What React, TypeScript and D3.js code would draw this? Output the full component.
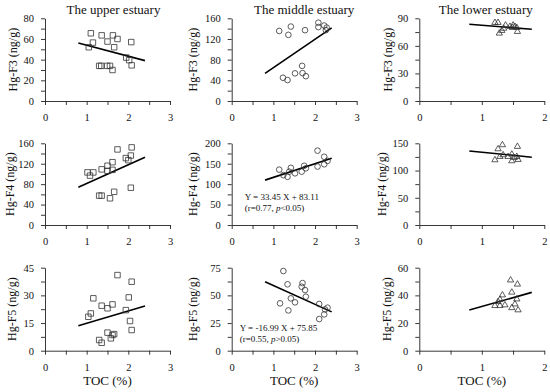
import React, { useEffect, useRef } from "react";
import * as d3 from "d3";

// [TOC %, Hg ng/g] pairs
const upperF3 = [[1.10, 65.5], [1.15, 56.5], [1.05, 52], [1.36, 63.5], [1.50, 57.5], [1.63, 63.5], [1.74, 60], [1.66, 52], [1.30, 34], [1.35, 34], [1.49, 34], [1.56, 34], [1.62, 30], [1.95, 42], [2.02, 39.5], [2.07, 57], [2.08, 34.5]];
const middleF3 = [[1.14, 135.5], [1.42, 144], [1.36, 128], [1.76, 137], [2.08, 151.5], [2.08, 143], [2.22, 146], [2.28, 142], [2.26, 137], [1.23, 45], [1.34, 40.5], [1.52, 53.5], [1.69, 68], [1.70, 54], [1.78, 48]];
const lowerF3 = [[1.21, 85.3], [1.26, 85.3], [1.28, 73.7], [1.32, 76.6], [1.38, 82.4], [1.45, 81], [1.50, 82.4], [1.53, 81], [1.49, 79.8], [1.56, 79.8], [1.57, 75.5], [1.35, 79]];
const upperF4 = [[1.02, 103], [1.08, 96.7], [1.16, 103], [1.36, 109], [1.50, 116], [1.50, 106], [1.62, 123], [1.62, 108], [1.74, 148], [1.94, 131], [2.0, 127], [2.06, 136], [2.08, 152], [2.06, 73], [1.30, 57.5], [1.36, 57.5], [1.56, 52.3], [1.66, 65]];
const middleF4 = [[1.14, 135.5], [1.24, 122], [1.34, 118], [1.42, 140], [1.38, 130.6], [1.52, 126.5], [1.68, 130.6], [1.74, 145], [1.78, 138.8], [2.06, 182], [2.06, 143], [2.22, 167], [2.22, 148.6], [2.30, 157]];
const lowerF4 = [[1.21, 119.4], [1.26, 139.6], [1.33, 147], [1.29, 125.5], [1.34, 128.6], [1.42, 125.5], [1.48, 129.8], [1.48, 117.6], [1.52, 123.7], [1.56, 125.5], [1.57, 144], [1.58, 120]];
const upperF5 = [[1.04, 18.4], [1.10, 20.2], [1.16, 28.4], [1.36, 24.4], [1.50, 23], [1.62, 25.1], [1.74, 41], [1.94, 22], [2.01, 28.9], [2.08, 37.4], [2.04, 16.1], [2.08, 11.2], [1.30, 5.8], [1.36, 4.3], [1.50, 9.8], [1.58, 6.7], [1.62, 8.5], [1.66, 9]];
const middleF5 = [[1.24, 72], [1.16, 42.8], [1.34, 60], [1.42, 47.3], [1.36, 36.4], [1.52, 43.7], [1.68, 57.8], [1.70, 61.1], [1.76, 54.8], [1.78, 48.8], [2.10, 42.2], [2.10, 28.6], [2.22, 32.8], [2.24, 37.3], [2.30, 38.9]];
const lowerF5 = [[1.21, 32.5], [1.26, 35.4], [1.29, 32.5], [1.33, 40.2], [1.37, 33], [1.29, 37], [1.46, 51], [1.48, 42.2], [1.48, 31], [1.53, 33.7], [1.56, 37.3], [1.57, 48], [1.58, 29.4]];

const titles = ["The upper estuary", "The middle estuary", "The lower estuary"];
const yLabels = ["Hg-F3 (ng/g)", "Hg-F4 (ng/g)", "Hg-F5 (ng/g)"];
const xLabel = "TOC (%)";
const xMaxByCol = [3, 3, 2];
const yMax = [[80, 160, 90], [160, 200, 150], [45, 75, 60]];
const yStep = [[20, 40, 30], [40, 50, 50], [15, 25, 20]];
const fitSlope = [[-10.6, 55, -5.4], [36.6, 33.45, -11.5], [6.7, -16.99, 12.7]];
const fitIntercept = [[64.5, 9.5, 87.8], [44.7, 83.11, 145.2], [8.2, 75.85, 19.3]];
const fitRange = [[0.8, 2.4], [0.8, 2.4], [0.8, 1.8]];
const eqLines = ["Y = 33.45 X + 83.11", "Y = -16.99 X + 75.85"];
const statR = ["(r=0.77, ", "(r=0.55, "];
const statP = ["<0.05)", ">0.05)"];

const dataGrid = [
  [upperF3, middleF3, lowerF3],
  [upperF4, middleF4, lowerF4],
  [upperF5, middleF5, lowerF5],
];
const markers = [d3.symbolSquare, d3.symbolCircle, d3.symbolTriangle];
const markerSize = [30, 25, 17];

// layout
const colLeft = [45, 231.7, 419.3];
const plotW = 125;
const rowTop = [18.3, 143.3, 267.7];
const rowH = [82.7, 81.7, 83];
const ylabOff = [[32, 38.5, 32], [35, 38.5, 37.5], [33, 38.5, 33]];
const titleShift = [6, 10, 4];
const font = "'Liberation Serif', 'Times New Roman', serif";

export default function App() {
  const ref = useRef<SVGSVGElement>(null);

  useEffect(() => {
    const svg = d3.select(ref.current);
    svg.selectAll("*").remove();

    for (let r = 0; r < 3; r++) {
      for (let c = 0; c < 3; c++) {
        const x0 = colLeft[c], y0 = rowTop[r], h = rowH[r];
        const x = d3.scaleLinear().domain([0, xMaxByCol[c]]).range([x0, x0 + plotW]);
        const y = d3.scaleLinear().domain([0, yMax[r][c]]).range([y0 + h, y0]);
        const g = svg.append("g");

        // y axis, minor ticks at half steps
        const ys = yStep[r][c];
        const yAxis = d3.axisLeft(y)
          .tickValues(d3.range(0, yMax[r][c] + 0.001, ys / 2))
          .tickFormat((d: any) => (Math.abs(d / ys - Math.round(d / ys)) < 1e-6 ? String(d) : ""))
          .tickSize(4).tickSizeOuter(0).tickPadding(7);
        const ya = g.append("g").attr("transform", `translate(${x0},0)`).call(yAxis);

        const xAxis = d3.axisBottom(x)
          .tickValues(d3.range(0, xMaxByCol[c] + 0.001, 0.5))
          .tickFormat((d: any) => (Number.isInteger(d) ? String(d) : ""))
          .tickSize(4).tickSizeOuter(0).tickPadding(9);
        const xa = g.append("g").attr("transform", `translate(0,${y0 + h})`).call(xAxis);

        [ya, xa].forEach(a => {
          a.attr("font-family", font).attr("font-size", 10.5);
          a.selectAll("path, line").attr("stroke", "#222").attr("stroke-width", 0.9);
          a.selectAll("text").attr("fill", "#111");
        });

        // y label
        g.append("text")
          .attr("transform", `translate(${x0 - ylabOff[r][c]},${y0 + h / 2}) rotate(-90)`)
          .attr("text-anchor", "middle")
          .attr("dy", "0.35em")
          .attr("font-family", font).attr("font-size", 12).attr("fill", "#111")
          .text(yLabels[r]);

        // fit line
        const fr = fitRange[c];
        g.append("path")
          .datum(fr)
          .attr("d", d3.line<number>().x(d => x(d)).y(d => y(fitSlope[r][c] * d + fitIntercept[r][c])))
          .attr("stroke", "#000").attr("stroke-width", 1.6).attr("fill", "none");

        // points
        g.selectAll("path.pt")
          .data(dataGrid[r][c])
          .enter().append("path")
          .attr("class", "pt")
          .attr("transform", d => `translate(${x(d[0])},${y(d[1])})`)
          .attr("d", d3.symbol().type(markers[c]).size(markerSize[c])())
          .attr("fill", "none").attr("stroke", "#333").attr("stroke-width", 0.8);

        if (r === 0) {
          svg.append("text")
            .attr("x", x0 + plotW / 2 + titleShift[c]).attr("y", 14)
            .attr("text-anchor", "middle")
            .attr("font-family", font).attr("font-size", 13).attr("fill", "#111")
            .text(titles[c]);
        }
        if (r === 2) {
          svg.append("text")
            .attr("x", x0 + plotW / 2).attr("y", 385)
            .attr("text-anchor", "middle")
            .attr("font-family", font).attr("font-size", 13).attr("fill", "#111")
            .text(xLabel);
        }
        if (c === 1 && r > 0) {
          const k = r - 1;
          const tx = x0 + (k === 0 ? 13 : 8);
          const ty = k === 0 ? 200.3 : 331;
          g.append("text").attr("x", tx).attr("y", ty)
            .attr("font-family", font).attr("font-size", 9).attr("fill", "#111")
            .text(eqLines[k]);
          const t2 = g.append("text").attr("x", tx).attr("y", ty + 11)
            .attr("font-family", font).attr("font-size", 9).attr("fill", "#111");
          t2.append("tspan").text(statR[k]);
          t2.append("tspan").attr("font-style", "italic").text("p");
          t2.append("tspan").text(statP[k]);
        }
      }
    }
  }, []);

  return (
    <svg ref={ref} width={550} height={392}
      style={{ position: "absolute", left: 0, top: 0, background: "#fff" }} />
  );
}
